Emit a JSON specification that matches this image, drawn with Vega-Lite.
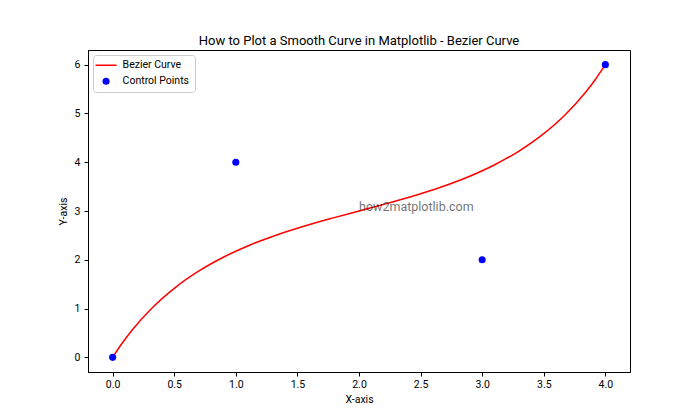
{
  "$schema": "https://vega.github.io/schema/vega-lite/v6.json",
  "width": 542,
  "height": 322,
  "autosize": {"type": "none"},
  "padding": {"left": 88, "top": 50, "right": 70, "bottom": 48},
  "background": "white",
  "config": {
    "font": "Roboto",
    "view": {"stroke": "black", "strokeWidth": 1},
    "axis": {
      "grid": false,
      "domainColor": "black",
      "tickColor": "black",
      "tickSize": 4,
      "labelColor": "black",
      "labelFontSize": 10.5,
      "titleColor": "black",
      "titleFontSize": 10.5,
      "titleFontWeight": "normal",
      "labelFont": "Roboto",
      "titleFont": "Roboto"
    },
    "title": {"fontSize": 13, "fontWeight": "normal", "color": "black", "font": "Roboto"}
  },
  "title": {"text": "How to Plot a Smooth Curve in Matplotlib - Bezier Curve", "anchor": "middle", "baseline": "bottom", "offset": -11},
  "datasets": {
    "curve": [
      {"x": 0, "y": 0, "series": "Bezier Curve"},
      {"x": 0.07684, "y": 0.28894, "series": "Bezier Curve"},
      {"x": 0.15725, "y": 0.5565, "series": "Bezier Curve"},
      {"x": 0.328, "y": 1.032, "series": "Bezier Curve"},
      {"x": 0.51075, "y": 1.4355, "series": "Bezier Curve"},
      {"x": 0.704, "y": 1.776, "series": "Bezier Curve"},
      {"x": 0.90625, "y": 2.0625, "series": "Bezier Curve"},
      {"x": 1.116, "y": 2.304, "series": "Bezier Curve"},
      {"x": 1.33175, "y": 2.5095, "series": "Bezier Curve"},
      {"x": 1.552, "y": 2.688, "series": "Bezier Curve"},
      {"x": 1.77525, "y": 2.8485, "series": "Bezier Curve"},
      {"x": 2.0, "y": 3.0, "series": "Bezier Curve"},
      {"x": 2.22475, "y": 3.1515, "series": "Bezier Curve"},
      {"x": 2.448, "y": 3.312, "series": "Bezier Curve"},
      {"x": 2.66825, "y": 3.4905, "series": "Bezier Curve"},
      {"x": 2.884, "y": 3.696, "series": "Bezier Curve"},
      {"x": 3.09375, "y": 3.9375, "series": "Bezier Curve"},
      {"x": 3.296, "y": 4.224, "series": "Bezier Curve"},
      {"x": 3.48925, "y": 4.5645, "series": "Bezier Curve"},
      {"x": 3.672, "y": 4.968, "series": "Bezier Curve"},
      {"x": 3.84275, "y": 5.4435, "series": "Bezier Curve"},
      {"x": 3.923156, "y": 5.711484, "series": "Bezier Curve"},
      {"x": 4, "y": 6, "series": "Bezier Curve"}
    ],
    "points": [
      {"x": 0, "y": 0, "series": "Control Points"},
      {"x": 1, "y": 4, "series": "Control Points"},
      {"x": 3, "y": 2, "series": "Control Points"},
      {"x": 4, "y": 6, "series": "Control Points"}
    ],
    "label": [
      {"x": 2, "y": 3, "text": "how2matplotlib.com"}
    ]
  },
  "encoding": {
    "x": {"field": "x", "type": "quantitative",
      "scale": {"domain": [-0.2, 4.2], "nice": false, "zero": false},
      "axis": {"values": [0, 0.5, 1, 1.5, 2, 2.5, 3, 3.5, 4], "format": ".1f", "title": "X-axis", "labelPadding": 3, "titlePadding": 5}},
    "y": {"field": "y", "type": "quantitative",
      "scale": {"domain": [-0.3, 6.3], "nice": false, "zero": false},
      "axis": {"values": [0, 1, 2, 3, 4, 5, 6], "title": "Y-axis", "labelPadding": 4, "titlePadding": 6}}
  },
  "layer": [
    {
      "data": {"name": "curve"},
      "mark": {"type": "line", "strokeWidth": 1.5, "interpolate": "monotone"},
      "encoding": {
        "color": {"field": "series", "type": "nominal",
          "scale": {"domain": ["Bezier Curve", "Control Points"], "range": ["#ff0000", "#0000ff"]},
          "legend": {
            "title": null,
            "orient": "top-left",
            "offset": 5,
            "padding": 5,
            "cornerRadius": 3,
            "strokeColor": "#cccccc",
            "fillColor": "white",
            "labelFontSize": 10.5,
            "labelColor": "black",
            "labelFont": "Roboto",
            "symbolSize": 70,
            "symbolOffset": 2.8,
            "labelOffset": 11.3,
            "rowPadding": 5,
            "encoding": {
              "symbols": {
                "shape": {"value": {"expr": "datum.value === 'Bezier Curve' ? 'stroke' : 'circle'"}},
                "size": {"value": {"expr": "datum.value === 'Bezier Curve' ? 441 : 50"}},
                "fill": {"value": {"expr": "datum.value === 'Bezier Curve' ? 'transparent' : '#0000ff'"}},
                "stroke": {"value": {"expr": "datum.value === 'Bezier Curve' ? '#ff0000' : '#0000ff'"}},
                "strokeWidth": {"value": {"expr": "datum.value === 'Bezier Curve' ? 1.5 : 0"}}
              }
            }
          }
        }
      }
    },
    {
      "data": {"name": "label"},
      "mark": {"type": "text", "align": "left", "baseline": "alphabetic", "fontSize": 12.5, "color": "#000000", "opacity": 0.55, "font": "Roboto"},
      "encoding": {"text": {"field": "text", "type": "nominal"}}
    },
    {
      "data": {"name": "points"},
      "mark": {"type": "point", "filled": true, "size": 50, "opacity": 1},
      "encoding": {
        "color": {"field": "series", "type": "nominal"}
      }
    }
  ]
}
